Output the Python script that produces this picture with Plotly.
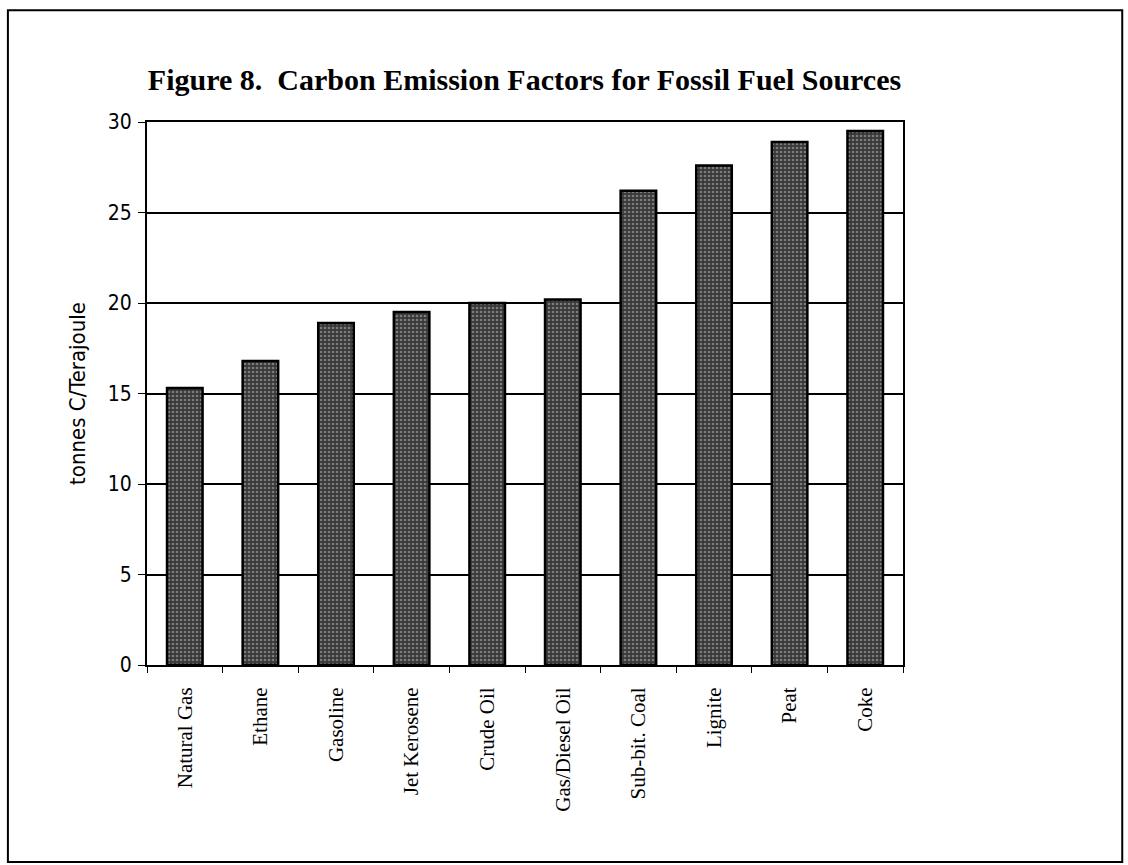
import plotly.graph_objects as go

# Carbon emission factors (tonnes C per terajoule)
fuels = ["Natural Gas", "Ethane", "Gasoline", "Jet Kerosene", "Crude Oil",
         "Gas/Diesel Oil", "Sub-bit. Coal", "Lignite", "Peat", "Coke"]
factors = [15.3, 16.8, 18.9, 19.5, 20.0, 20.2, 26.2, 27.6, 28.9, 29.5]
y_ticks = [0, 5, 10, 15, 20, 25, 30]

fig = go.Figure()
fig.add_trace(go.Bar(
    x=fuels,
    y=factors,
    marker=dict(
        color="#444444",
        line=dict(color="black", width=2.5),
        pattern=dict(shape=".", fgcolor="#c0c0c0", bgcolor="#383838",
                     size=4, solidity=0.35),
    ),
    width=0.47,
    showlegend=False,
))

fig.update_layout(
    width=1128,
    height=865,
    margin=dict(l=147, r=225, t=122, b=200),
    paper_bgcolor="white",
    plot_bgcolor="white",
    title=dict(
        text="<b>Figure 8.  Carbon Emission Factors for Fossil Fuel Sources</b>",
        font=dict(family="Liberation Serif", size=30, color="black"),
        x=0.465, xanchor="center", y=0.908, yanchor="middle",
    ),
    xaxis=dict(
        tickangle=-90,
        tickfont=dict(family="Liberation Serif", size=21, color="black"),
        ticklabelstandoff=12,
        showline=True, linecolor="black", linewidth=2, mirror=True,
        ticks="outside", tickson="boundaries", ticklen=6,
        tickcolor="black", tickwidth=1,
        showgrid=False,
    ),
    yaxis=dict(
        range=[0, 30],
        tickvals=y_ticks,
        tickfont=dict(family="DejaVu Sans Condensed", size=21, color="black"),
        ticklabelstandoff=2,
        title=dict(text="tonnes C/Terajoule",
                   font=dict(family="DejaVu Sans Condensed", size=22,
                             color="black"),
                   standoff=16),
        showline=True, linecolor="black", linewidth=2, mirror=True,
        ticks="outside", ticklen=7, tickcolor="black", tickwidth=1,
        showgrid=True, gridcolor="black", gridwidth=2,
        zeroline=False,
    ),
    shapes=[dict(
        type="rect", xref="paper", yref="paper",
        x0=-0.184, x1=1.29, y0=-0.363, y1=1.206,
        line=dict(color="black", width=2),
        fillcolor="rgba(0,0,0,0)", layer="below",
    )],
)

fig.write_html("out.html")
